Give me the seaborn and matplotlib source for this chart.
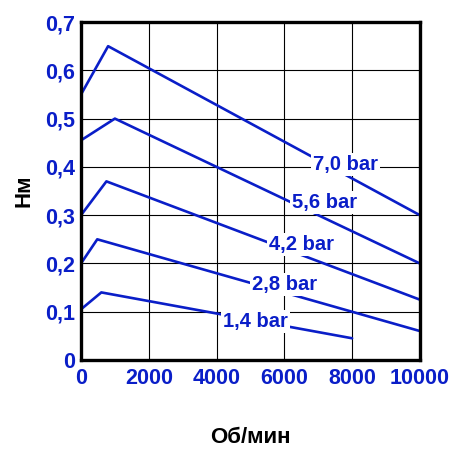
import pandas as pd
import seaborn as sns
import matplotlib.pyplot as plt

# pressure curves: speed (rpm) vs torque (N*m)
pressures = ['7,0 bar', '5,6 bar', '4,2 bar', '2,8 bar', '1,4 bar']
rpm = [
    [0, 800, 10000],
    [0, 1000, 10000],
    [0, 750, 10000],
    [0, 480, 10000],
    [0, 600, 8000],
]
torque = [
    [0.55, 0.65, 0.30],
    [0.455, 0.50, 0.20],
    [0.30, 0.37, 0.125],
    [0.20, 0.25, 0.06],
    [0.105, 0.14, 0.045],
]
# where the labels sit on each curve
label_x = [7800, 7200, 6500, 6000, 5150]
label_y = [0.405, 0.327, 0.240, 0.157, 0.079]

rows = []
for p, xs, ys in zip(pressures, rpm, torque):
    for x, y in zip(xs, ys):
        rows.append({'p': p, 'rpm': x, 'nm': y})
df = pd.DataFrame(rows)

sns.set_style('white')
plt.rcParams['font.family'] = ['Liberation Sans', 'DejaVu Sans']
blue = '#0a1ec8'

fig = plt.figure(figsize=(4.5, 4.5), dpi=100)
ax = fig.add_axes([0.18, 0.2, 0.753, 0.751])

for p in pressures:
    sub = df[df['p'] == p]
    sns.lineplot(data=sub, x='rpm', y='nm', color=blue, lw=1.9, ax=ax,
                 sort=False, estimator=None, legend=False)

for p, x, y in zip(pressures, label_x, label_y):
    ax.text(x, y, p, color=blue, fontsize=14.5, fontweight='bold',
            ha='center', va='center', zorder=5,
            bbox=dict(fc='white', ec='none', pad=1.5))

ax.set_xlim(0, 10000)
ax.set_ylim(0, 0.7)
ax.set_xticks([0, 2000, 4000, 6000, 8000, 10000])
ax.set_yticks([0, 0.1, 0.2, 0.3, 0.4, 0.5, 0.6, 0.7])
ax.set_yticklabels(['0', '0,1', '0,2', '0,3', '0,4', '0,5', '0,6', '0,7'])
ax.grid(True, color='black', lw=0.8)
for s in ax.spines.values():
    s.set_visible(True)
    s.set_color('black')
    s.set_linewidth(2.4)
ax.tick_params(axis='both', length=0, labelsize=15.5, labelcolor=blue)
ax.tick_params(axis='x', pad=6)
ax.tick_params(axis='y', pad=4)
for t in ax.get_xticklabels() + ax.get_yticklabels():
    t.set_fontweight('bold')

ax.set_xlabel('Об/мин', fontsize=16, fontweight='bold', color='black', labelpad=27)
ax.set_ylabel('Нм', fontsize=16, fontweight='bold', color='black', labelpad=8)

plt.savefig('out.png', dpi=100)
